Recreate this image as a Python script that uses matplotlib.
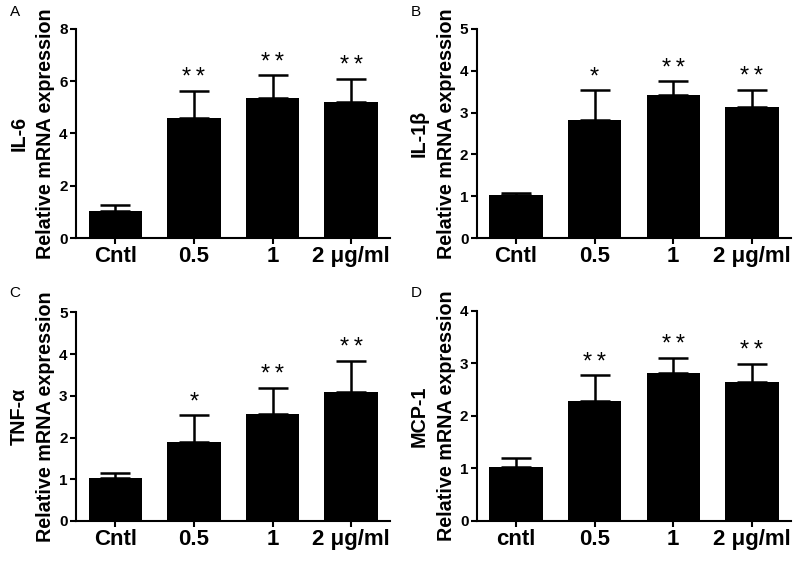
import matplotlib

matplotlib.use("Agg")
import matplotlib.pyplot as plt

plt.rcParams["font.family"] = ["Liberation Sans", "DejaVu Sans"]

groups = ["Cntl", "0.5", "1", "2 μg/ml"]
groups_d = ["cntl", "0.5", "1", "2 μg/ml"]

il6_mean = [1.05, 4.6, 5.35, 5.22]
il6_err = [0.23, 1.02, 0.87, 0.86]
il6_sig = ["", "**", "**", "**"]

il1b_mean = [1.02, 2.83, 3.42, 3.13]
il1b_err = [0.05, 0.71, 0.33, 0.41]
il1b_sig = ["", "*", "**", "**"]

tnf_mean = [1.02, 1.9, 2.57, 3.09]
tnf_err = [0.12, 0.64, 0.63, 0.75]
tnf_sig = ["", "*", "**", "**"]

mcp1_mean = [1.02, 2.29, 2.82, 2.64]
mcp1_err = [0.17, 0.48, 0.29, 0.35]
mcp1_sig = ["", "**", "**", "**"]

panels = [
    ("A", "IL-6", groups, il6_mean, il6_err, il6_sig, 8, [0, 2, 4, 6, 8]),
    ("B", "IL-1β", groups, il1b_mean, il1b_err, il1b_sig, 5, [0, 1, 2, 3, 4, 5]),
    ("C", "TNF-α", groups, tnf_mean, tnf_err, tnf_sig, 5, [0, 1, 2, 3, 4, 5]),
    ("D", "MCP-1", groups_d, mcp1_mean, mcp1_err, mcp1_sig, 4, [0, 1, 2, 3, 4]),
]

# axes boxes in figure fractions (left, bottom, width, height)
boxes = [
    (0.095, 0.5765, 0.393, 0.372),
    (0.596, 0.5765, 0.393, 0.372),
    (0.095, 0.073, 0.393, 0.371),
    (0.596, 0.073, 0.393, 0.374),
]
letter_pos = [(0.012, 0.978), (0.513, 0.978), (0.012, 0.478), (0.513, 0.478)]

fig = plt.figure(figsize=(8, 5.62), dpi=100)

for (letter, gene, labels, mean, err, sig, ymax, yticks), box, lp in zip(panels, boxes, letter_pos):
    ax = fig.add_axes(box)
    x = list(range(len(mean)))
    ax.bar(x, mean, width=0.68, color="black", zorder=2)
    ax.errorbar(x, mean, yerr=[[0] * len(err), err], fmt="none", ecolor="black",
                elinewidth=1.8, capsize=11, capthick=1.8, zorder=1)
    for xi, m, e, s in zip(x, mean, err, sig):
        if s:
            ax.text(xi, m + e + ymax * 0.008, "\u2009".join(s), ha="center", va="bottom",
                    fontsize=17, color="black")
    ax.set_xlim(-0.5, 3.5)
    ax.set_ylim(0, ymax)
    ax.set_yticks(yticks)
    ax.set_xticks(x)
    ax.set_xticklabels(labels, fontsize=16, fontweight="bold")
    for t in ax.get_yticklabels():
        t.set_fontsize(11)
        t.set_fontweight("bold")
    ax.spines["top"].set_visible(False)
    ax.spines["right"].set_visible(False)
    for sp in ("left", "bottom"):
        ax.spines[sp].set_linewidth(1.5)
    ax.tick_params(axis="both", direction="out", length=4, width=1.5, pad=2)
    ax.set_ylabel("Relative mRNA expression", fontsize=14.2, fontweight="bold", labelpad=3)
    # gene name sits as a second label line, left of the main y label
    ax.text(-0.182, 0.5, gene, transform=ax.transAxes, rotation=90, ha="center",
            va="center", fontsize=14.2, fontweight="bold")
    fig.text(lp[0], lp[1], letter, fontsize=11, ha="left", va="center")

fig.savefig("out.png", dpi=100)
